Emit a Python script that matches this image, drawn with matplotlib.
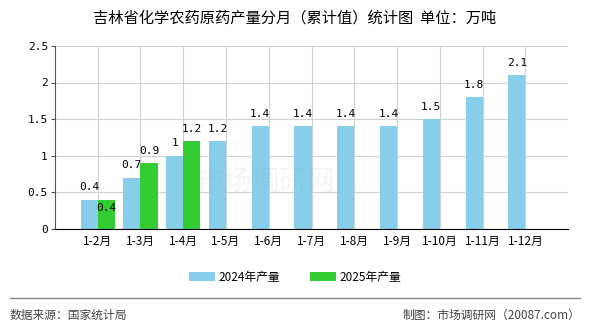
import matplotlib.pyplot as plt
import numpy as np

plt.rcParams['font.family'] = ['Noto Sans CJK SC', 'DejaVu Sans']

months = ['1-2月', '1-3月', '1-4月', '1-5月', '1-6月', '1-7月', '1-8月',
          '1-9月', '1-10月', '1-11月', '1-12月']
output_2024 = [0.4, 0.7, 1, 1.2, 1.4, 1.4, 1.4, 1.4, 1.5, 1.8, 2.1]
output_2025 = [0.4, 0.9, 1.2]

c2024 = '#87ceeb'
c2025 = '#33cc33'

fig = plt.figure(figsize=(5.9, 3.3), dpi=100)
ax = fig.add_axes([0.093, 0.306, 0.870, 0.555])

x = np.arange(1, len(months) + 1)
w = 0.4
ax.bar(x - w / 2, output_2024, width=w, color=c2024, label='2024年产量', zorder=2)
x25 = x[:len(output_2025)]
ax.bar(x25 + w / 2, output_2025, width=w, color=c2025, label='2025年产量', zorder=2)

lab = dict(fontsize=8, family='DejaVu Sans Mono', ha='center', va='bottom')
for xi, v in zip(x, output_2024):
    ax.text(xi - w / 2, v + 0.1, f'{v:g}', **lab)
for i, (xi, v) in enumerate(zip(x25, output_2025)):
    # first green label sits inside the bar to avoid overlapping the blue one
    y = v - 0.18 if i == 0 else v + 0.1
    ax.text(xi + w / 2, y, f'{v:g}', **lab)

ax.set_xlim(0, 12)
ax.set_ylim(0, 2.5)
ax.set_xticks(x)
ax.set_xticklabels(months, fontsize=8.5)
ax.set_yticks([0, 0.5, 1, 1.5, 2, 2.5])
ax.set_yticklabels(['0', '0.5', '1', '1.5', '2', '2.5'], fontsize=8,
                   family='DejaVu Sans Mono')
ax.grid(True, color='#d0d0d0', linewidth=0.8, zorder=0)
ax.set_axisbelow(True)
for s in ['top', 'right']:
    ax.spines[s].set_visible(False)
ax.spines['left'].set_color('#555555')
ax.spines['bottom'].set_color('#000000')
ax.tick_params(axis='y', length=3, color='#555555', pad=2)
ax.tick_params(axis='x', length=0, pad=4)

# watermark
fig.text(0.45, 0.45, '市场调研网', fontsize=20, color='#999999', alpha=0.1,
         ha='center', va='center')

fig.text(0.5, 0.945, '吉林省化学农药原药产量分月（累计值）统计图  单位：万吨',
         ha='center', va='center', fontsize=11)

fig.legend(loc='center', bbox_to_anchor=(0.5, 0.16), ncol=2, frameon=False,
           fontsize=8.5, handlelength=2.2, handleheight=0.8, columnspacing=2.5,
           handletextpad=0.3)

fig.add_artist(plt.Line2D([0.017, 0.983], [0.097, 0.097], color='#888888',
                          linewidth=1, transform=fig.transFigure))
fig.text(0.017, 0.045, '数据来源：国家统计局', fontsize=8.5, color='#444444',
         va='center', ha='left')
fig.text(0.983, 0.045, '制图：市场调研网（20087.com）', fontsize=8.5,
         color='#444444', va='center', ha='right')

fig.savefig('out.png', dpi=100)
